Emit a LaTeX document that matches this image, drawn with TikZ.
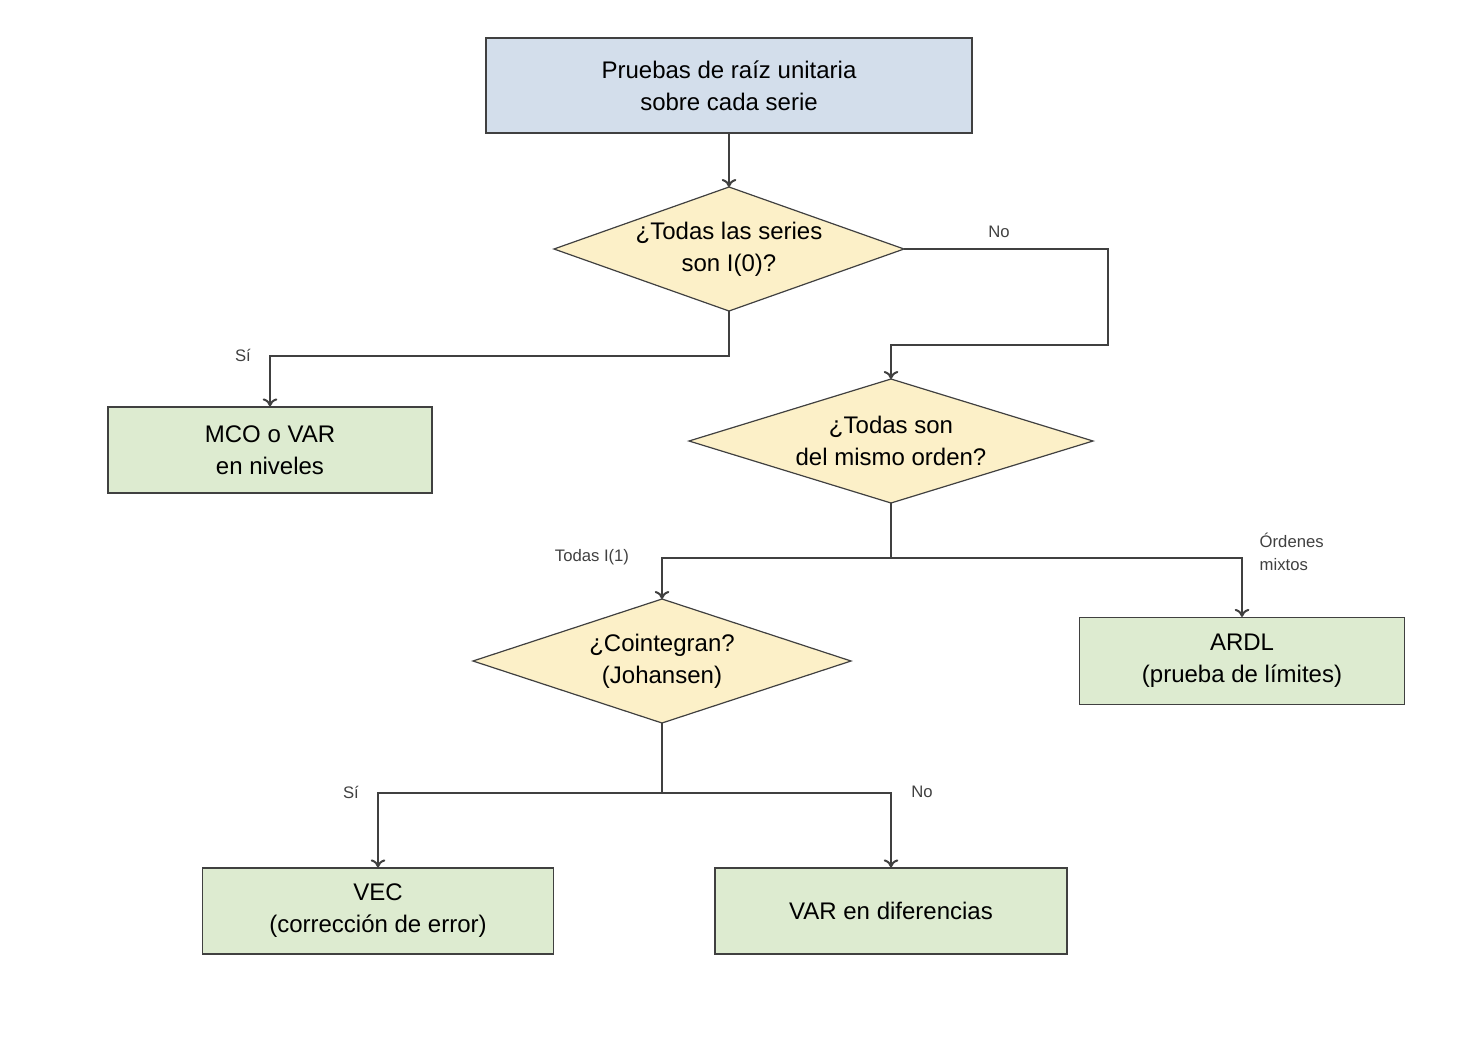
\documentclass[tikz,border=0pt]{standalone}
\usepackage{fontspec}
\setmainfont{Liberation Sans}
\usetikzlibrary{shapes.geometric,arrows.meta}
\definecolor{bluef}{HTML}{D3DEEB}
\definecolor{greenf}{HTML}{DDEBD0}
\definecolor{yellowf}{HTML}{FCF0C8}
\definecolor{edge}{HTML}{404040}
\begin{document}
\begin{tikzpicture}[x=0.75pt,y=-0.75pt,
  box/.style={draw=edge,line width=0.9pt,align=center,font=\fontsize{18}{24}\selectfont,inner sep=0pt},
  dia/.style={draw=edge,line width=0.9pt,fill=yellowf},
  conn/.style={draw=edge,line width=1.5pt,-{To[length=6pt,width=11pt]}},
  lab/.style={font=\fontsize{12.5}{17}\selectfont,text=edge}]
\useasboundingbox (0,0) rectangle (1459,1036);
\node[box,fill=bluef,minimum width=486*0.75pt,minimum height=95*0.75pt] (top) at (729,85.5) {Pruebas de raíz unitaria\\sobre cada serie};
\draw[dia] (554,249) -- (729,187) -- (904,249) -- (729,311) -- cycle;
\node[align=center,font=\fontsize{18}{24}\selectfont] (d1) at (729,249) {¿Todas las series\\son I(0)?};
\coordinate (d1t) at (729,187); \coordinate (d1b) at (729,311); \coordinate (d1r) at (904,249);
\node[box,fill=greenf,minimum width=324*0.75pt,minimum height=86*0.75pt] (mco) at (270,450) {MCO o VAR\\en niveles};
\draw[dia] (689,441) -- (891,379) -- (1093,441) -- (891,503) -- cycle;
\node[align=center,font=\fontsize{18}{24}\selectfont] (d2) at (891,441) {¿Todas son\\del mismo orden?};
\coordinate (d2t) at (891,379); \coordinate (d2b) at (891,503);
\draw[dia] (473,661) -- (662,599) -- (851,661) -- (662,723) -- cycle;
\node[align=center,font=\fontsize{18}{24}\selectfont] (d3) at (662,661) {¿Cointegran?\\(Johansen)};
\coordinate (d3t) at (662,599); \coordinate (d3b) at (662,723);
\node[box,fill=greenf,minimum width=325*0.75pt,minimum height=87*0.75pt] (ardl) at (1242,661) {ARDL\\(prueba de límites)};
\node[box,fill=greenf,minimum width=351*0.75pt,minimum height=86*0.75pt] (vec) at (378,911) {VEC\\(corrección de error)};
\node[box,fill=greenf,minimum width=352*0.75pt,minimum height=86*0.75pt] (vard) at (891,911) {VAR en diferencias};
\draw[conn] (top.south) -- (d1t);
\draw[conn] (d1r) -- (1108,249) -- (1108,345) -- (891,345) -- (d2t);
\node[lab] (ln1) at (999,232) {No};
\draw[conn] (d1b) -- (729,356) -- (270,356) -- (mco.north);
\node[lab] (ls1) at (243,355) {Sí};
\draw[conn] (d2b) -- (891,558) -- (662,558) -- (d3t);
\draw[conn] (891,558) -- (1242,558) -- (ardl.north);
\node[lab] (lt) at (592,557) {Todas I(1)};
\node[lab,align=left,anchor=west] (lm) at (1255,552) {Órdenes\\mixtos};
\draw[conn] (d3b) -- (662,793) -- (378,793) -- (vec.north);
\draw[conn] (662,793) -- (891,793) -- (vard.north);
\node[lab] (ls2) at (351,792) {Sí};
\node[lab] (ln2) at (922,792) {No};
\end{tikzpicture}
\end{document}
